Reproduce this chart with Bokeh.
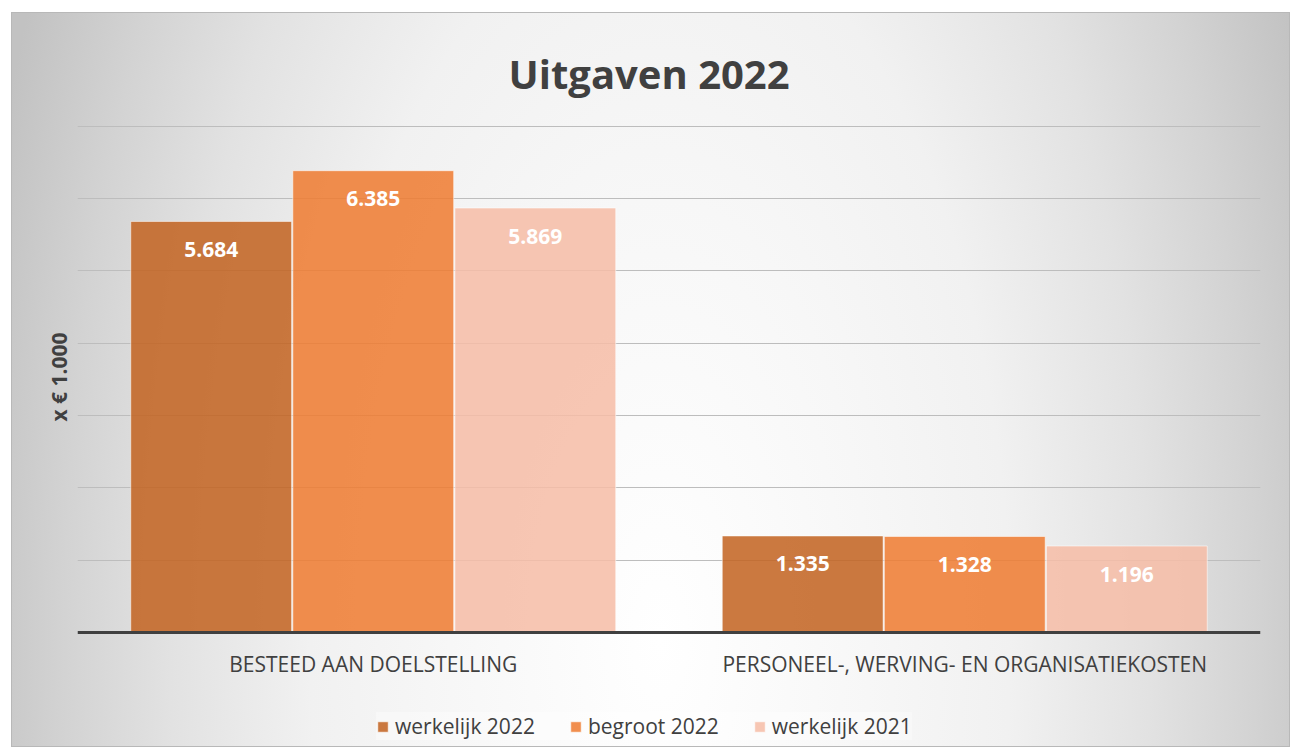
from bokeh.plotting import figure
from bokeh.models import (FactorRange, Range1d, Legend, LegendItem, ColumnDataSource,
                          FixedTicker, Span, Title)
from bokeh.transform import dodge
from bokeh.core.properties import value
from bokeh.embed import file_html
from bokeh.resources import INLINE

# ---- data ----
categories = ["BESTEED AAN DOELSTELLING", "PERSONEEL-, WERVING- EN ORGANISATIEKOSTEN"]
series_names = ["werkelijk 2022", "begroot 2022", "werkelijk 2021"]
werkelijk_2022 = [5684, 1335]
begroot_2022 = [6385, 1328]
werkelijk_2021 = [5869, 1196]
y_ticks = [1000, 2000, 3000, 4000, 5000, 6000, 7000]

colors = ["#C36321", "#EF7C31", "#F6BDA6"]
offsets = [-0.274, 0.0, 0.274]
FONT = "Open Sans"
TXT = "#404040"


def nl(v):
    return f"{v:,}".replace(",", ".")


cols = {"werkelijk_2022": werkelijk_2022, "begroot_2022": begroot_2022,
        "werkelijk_2021": werkelijk_2021}
data = {"cat": categories}
for k, v in cols.items():
    data[k] = v
    data[k + "_lbl"] = [nl(x) for x in v]
src = ColumnDataSource(data)

p = figure(x_range=FactorRange(*categories), y_range=Range1d(-1590, 7010),
           frame_width=1183, frame_height=622, output_backend="svg",
           toolbar_location=None, x_axis_location=None, y_axis_location=None,
           min_border_left=66, min_border_right=30, min_border_top=113,
           min_border_bottom=0, background_fill_color=None,
           border_fill_color=None, outline_line_color=None)
p.styles = {
    "background": "radial-gradient(ellipse 700px 1470px at 649px 628px, #ffffff 0%, "
                  "#f7f7f7 30%, #f1f1f1 50%, #e2e2e2 70%, #d3d3d3 85%, #c2c2c2 100%)",
    "box-shadow": "inset 0 0 0 1px #b8b8b8",
    "margin-left": "11px",
    "margin-top": "12px",
}

p.title.text = "Uitgaven 2022"
p.title.align = "left"
p.title.offset = 431
p.title.text_font = FONT
p.title.text_font_size = "40px"
p.title.text_font_style = "bold"
p.title.text_color = TXT
p.title.standoff = 50

ylabel = Title(text="x € 1.000", align="left", offset=326, standoff=9,
               text_font=FONT, text_font_size="21px", text_font_style="bold",
               text_color=TXT)
p.add_layout(ylabel, "left")

p.xgrid.grid_line_color = None
p.ygrid.ticker = FixedTicker(ticks=y_ticks)
p.ygrid.grid_line_color = "#bdbdbd"
p.ygrid.grid_line_width = 1

items = []
for name, key, col, off in zip(series_names, cols.keys(), colors, offsets):
    r = p.vbar(x=dodge("cat", off, range=p.x_range), top=key, width=0.272, source=src,
               fill_color=col, fill_alpha=0.86, line_color="white", line_alpha=0.55,
               line_width=1)
    p.text(x=dodge("cat", off, range=p.x_range), y=key, text=key + "_lbl", source=src,
           text_align="center", text_baseline="middle", y_offset=28,
           text_color="white", text_font=value(FONT), text_font_style="bold",
           text_font_size="21px")
    items.append(LegendItem(label=name, renderers=[r]))

# baseline (value axis zero line) and category labels under it
p.add_layout(Span(location=0, dimension="width", line_color="#404040", line_width=3))
p.text(x="cat", y=0, text="cat", source=src, text_align="center",
       text_baseline="middle", y_offset=31, text_color=TXT,
       text_font=value(FONT), text_font_size="21px")

legend = Legend(items=items, orientation="horizontal", location=(299, 7),
                glyph_width=13, glyph_height=13, label_text_font=FONT,
                label_text_font_size="21px", label_text_color=TXT, label_standoff=6,
                spacing=34, padding=9, margin=0, background_fill_color="white",
                background_fill_alpha=0.35, border_line_color=None)
p.add_layout(legend, "center")

open("out.html", "w").write(file_html(p, INLINE))
